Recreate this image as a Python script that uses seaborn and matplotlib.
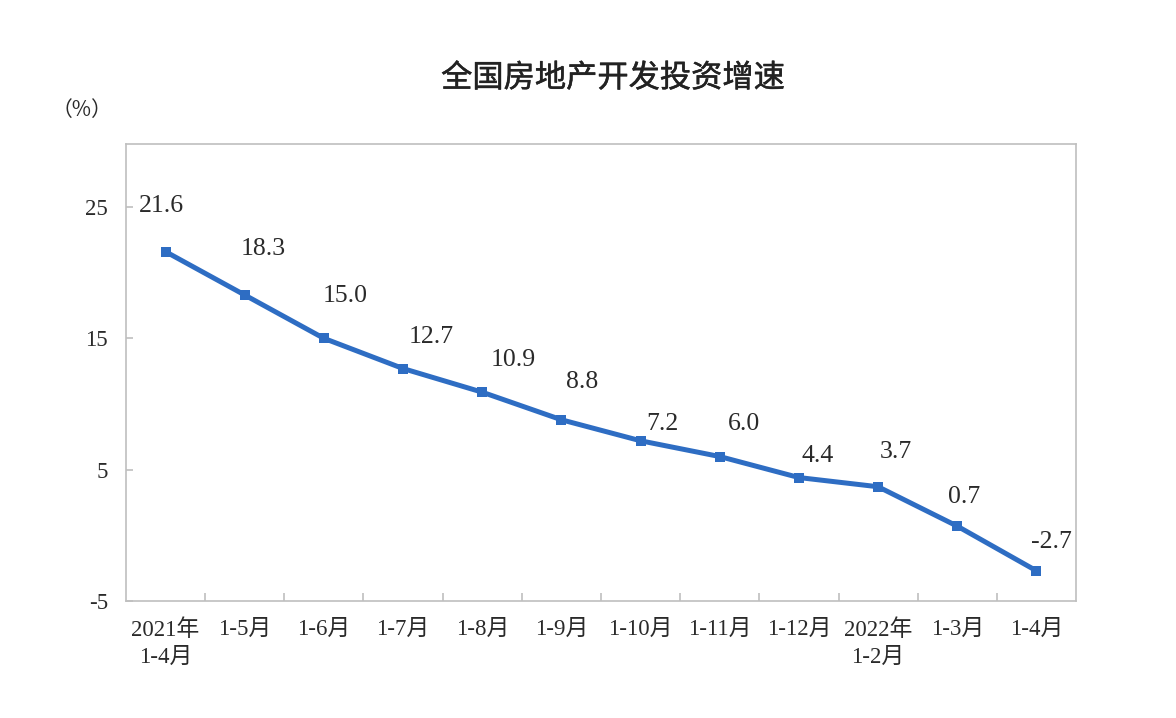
import matplotlib
matplotlib.use("Agg")
import matplotlib.pyplot as plt
import matplotlib.patheffects as pe
import seaborn as sns
import numpy as np
from matplotlib.ticker import FixedLocator

categories = ["2021年\n1-4月", "1-5月", "1-6月", "1-7月", "1-8月", "1-9月",
              "1-10月", "1-11月", "1-12月", "2022年\n1-2月", "1-3月", "1-4月"]
growth = [21.6, 18.3, 15.0, 12.7, 10.9, 8.8, 7.2, 6.0, 4.4, 3.7, 0.7, -2.7]
value_labels = ["21.6", "18.3", "15.0", "12.7", "10.9", "8.8", "7.2", "6.0", "4.4", "3.7", "0.7", "-2.7"]
y_ticks = [-5, 5, 15, 25]

# label offsets in pixels (dx, dy)
label_offsets = [(-4, 46), (18, 46), (21, 42), (28, 32), (31, 32), (21, 38),
                 (22, 17), (24, 33), (19, 22), (18, 35), (7, 29), (15, 29)]

sns.set_theme(style="white")
plt.rcParams["font.family"] = ["Liberation Serif", "Noto Sans CJK SC", "DejaVu Sans"]

text_color = "#2a2a2a"
line_color = "#2E6DC3"
spine_color = "#BFBFBF"

fig = plt.figure(figsize=(11.76, 7.18), dpi=100)
ax = fig.add_axes([126/1176, 1-601/718, (1076-126)/1176, (601-144)/718])

x = np.arange(len(growth))
sns.lineplot(x=x, y=growth, ax=ax, color=line_color, linewidth=3.6,
             marker="s", markersize=7.5, markeredgewidth=0, markerfacecolor=line_color)

ax.set_xlim(-0.5, len(growth) - 0.5)
ax.set_ylim(-5, 29.8)
ax.set_yticks(y_ticks)
ax.set_yticklabels([str(t) for t in y_ticks], fontsize=16.5, color=text_color)
ax.set_xticks(x)
ax.set_xticklabels(categories, fontsize=16.5, color=text_color, linespacing=1.4)
ax.xaxis.set_minor_locator(FixedLocator(np.arange(0.5, len(growth) - 1, 1.0)))
ax.tick_params(axis="x", which="major", length=0, pad=13)
ax.tick_params(axis="x", which="minor", direction="in", length=6, color=spine_color, width=1.2, bottom=True)
ax.tick_params(axis="y", which="major", direction="in", length=5, color=spine_color, width=1.2, pad=13, left=True)

for s in ax.spines.values():
    s.set_color(spine_color)
    s.set_linewidth(1.2)

ax.grid(False)

for xi, yi, lab, (dx, dy) in zip(x, growth, value_labels, label_offsets):
    ax.annotate(lab, xy=(xi, yi), xytext=(dx * 0.72, dy * 0.72), textcoords="offset points",
                ha="center", va="center", fontsize=18.5, color=text_color)

fig.text(613/1176, 1-78/718, "全国房地产开发投资增速", ha="center", va="center",
         fontsize=22.5, color="#222222", family=["Noto Sans CJK SC"],
         path_effects=[pe.withStroke(linewidth=0.35, foreground="#222222")])
fig.text(82/1176, 1-110/718, "（%）", ha="center", va="center", fontsize=15,
         color=text_color, family=["Noto Sans CJK SC"])

fig.savefig("out.png", dpi=100, facecolor="white")
